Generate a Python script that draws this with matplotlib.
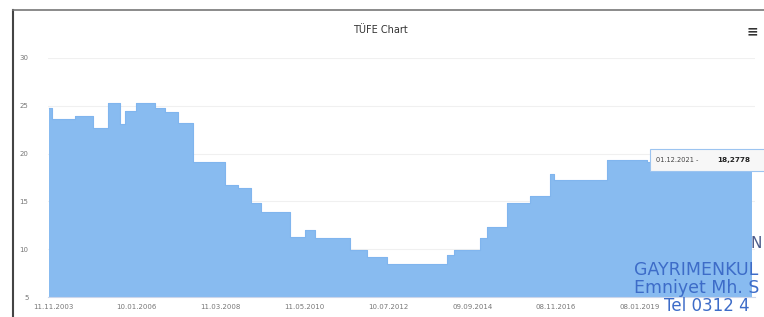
#!/usr/bin/env python3

import matplotlib
matplotlib.use("Agg")
import matplotlib.pyplot as plt
import matplotlib.dates as mdates
from matplotlib.lines import Line2D
from matplotlib.patches import Rectangle
import pandas as pd

# step start dates and values
dates = ["2003-10-04", "2003-11-02", "2004-06-05", "2004-11-22", "2005-04-13",
         "2005-08-04", "2005-09-20", "2006-01-01", "2006-06-29", "2006-10-02",
         "2007-02-01", "2007-06-21", "2008-04-18", "2008-08-18", "2008-12-18",
         "2009-03-23", "2009-12-21", "2010-05-11", "2010-08-13", "2011-07-18",
         "2011-12-25", "2012-06-30", "2014-01-16", "2014-03-23", "2014-11-23",
         "2015-01-28", "2015-08-04", "2016-03-08", "2016-09-12", "2016-10-20",
         "2018-03-03", "2019-03-15", "2021-07-09", "2021-12-01"]
rates = [24.8, 23.6, 23.9, 22.7, 25.3, 23.1, 24.5, 25.3, 24.8, 24.3,
         23.2, 19.1, 16.7, 16.4, 14.8, 13.9, 11.25, 12.0, 11.15, 9.9,
         9.2, 8.5, 9.4, 9.9, 11.15, 12.3, 14.8, 15.6, 17.9, 17.2,
         19.3, 19.1, 18.6, 18.2778]

tick_dates = ["2003-11-11", "2006-01-10", "2008-03-11", "2010-05-11",
              "2012-07-10", "2014-09-09", "2016-11-08", "2019-01-08"]
y_ticks = [5, 10, 15, 20, 25, 30]

title = "TÜFE Chart"
tooltip_date = "01.12.2021"
tooltip_value = "18,2778"


def main():
    x = pd.to_datetime(dates)
    fig = plt.figure(figsize=(7.64, 3.17), dpi=100)
    fig.patch.set_facecolor("white")
    W, H = 764, 317
    ax = fig.add_axes([48 / W, (H - 297) / H, (755 - 48) / W, (297 - 58) / H])

    fill = "#88bbf0"
    ax.fill_between(x, rates, 5, step="post", color=fill, linewidth=0)
    ax.step(x, rates, where="post", color="#80b5ee", linewidth=0.8)

    ax.set_ylim(5, 30)
    ax.set_yticks(y_ticks)
    ax.set_xlim(pd.Timestamp("2003-09-25"), pd.Timestamp("2021-12-28"))
    ax.set_xticks(pd.to_datetime(tick_dates))
    ax.xaxis.set_major_formatter(mdates.DateFormatter("%d.%m.%Y"))

    ax.grid(True, axis="y", color="#f0f0f0", linewidth=0.8)
    ax.set_axisbelow(True)
    for s in ["top", "right", "left"]:
        ax.spines[s].set_visible(False)
    ax.spines["bottom"].set_color("#ccd6eb")
    ax.tick_params(axis="y", length=0, labelsize=5, colors="#777777", pad=14)
    ax.tick_params(axis="x", length=0, labelsize=5, colors="#777777", pad=5)

    # container border from the photo
    fig.add_artist(Line2D([13 / W, 13 / W], [0, 1 - 10 / H], color="#444444", lw=1.5))
    fig.add_artist(Line2D([13 / W, 1], [1 - 10 / H, 1 - 10 / H], color="#777777", lw=1.2))

    fig.text(380 / W, 1 - 30 / H, title, ha="center", va="center",
             fontsize=7, color="#333333")
    fig.text(752 / W, 1 - 31 / H, "≡", ha="center", va="center",
             fontsize=10, color="#333333", fontweight="bold")

    # tooltip
    fig.add_artist(Rectangle((650 / W, 1 - 171 / H), 120 / W, 22 / H,
                             transform=fig.transFigure, facecolor="#f7f7f7",
                             edgecolor="#9cc4f0", linewidth=0.8))
    fig.text(656 / W, 1 - 160 / H, tooltip_date + " - ", ha="left", va="center",
             fontsize=4.8, color="#444444")
    fig.text(717 / W, 1 - 160 / H, tooltip_value, ha="left", va="center",
             fontsize=5.2, color="#222222", fontweight="bold")

    # watermark seen in the photo
    blue = "#3d6cc8"
    fig.text(750 / W, 1 - 243 / H, "N", ha="left", va="center", fontsize=11, color="#4a5a8a")
    fig.text(634 / W, 1 - 270 / H, "GAYRIMENKUL", ha="left", va="center", fontsize=12.5, color=blue)
    fig.text(634 / W, 1 - 288 / H, "Emniyet Mh. S", ha="left", va="center", fontsize=12.5, color=blue)
    fig.text(664 / W, 1 - 306 / H, "Tel 0312 4", ha="left", va="center", fontsize=12, color=blue)

    plt.savefig("out.png", dpi=100, facecolor="white")


if __name__ == "__main__":
    main()
